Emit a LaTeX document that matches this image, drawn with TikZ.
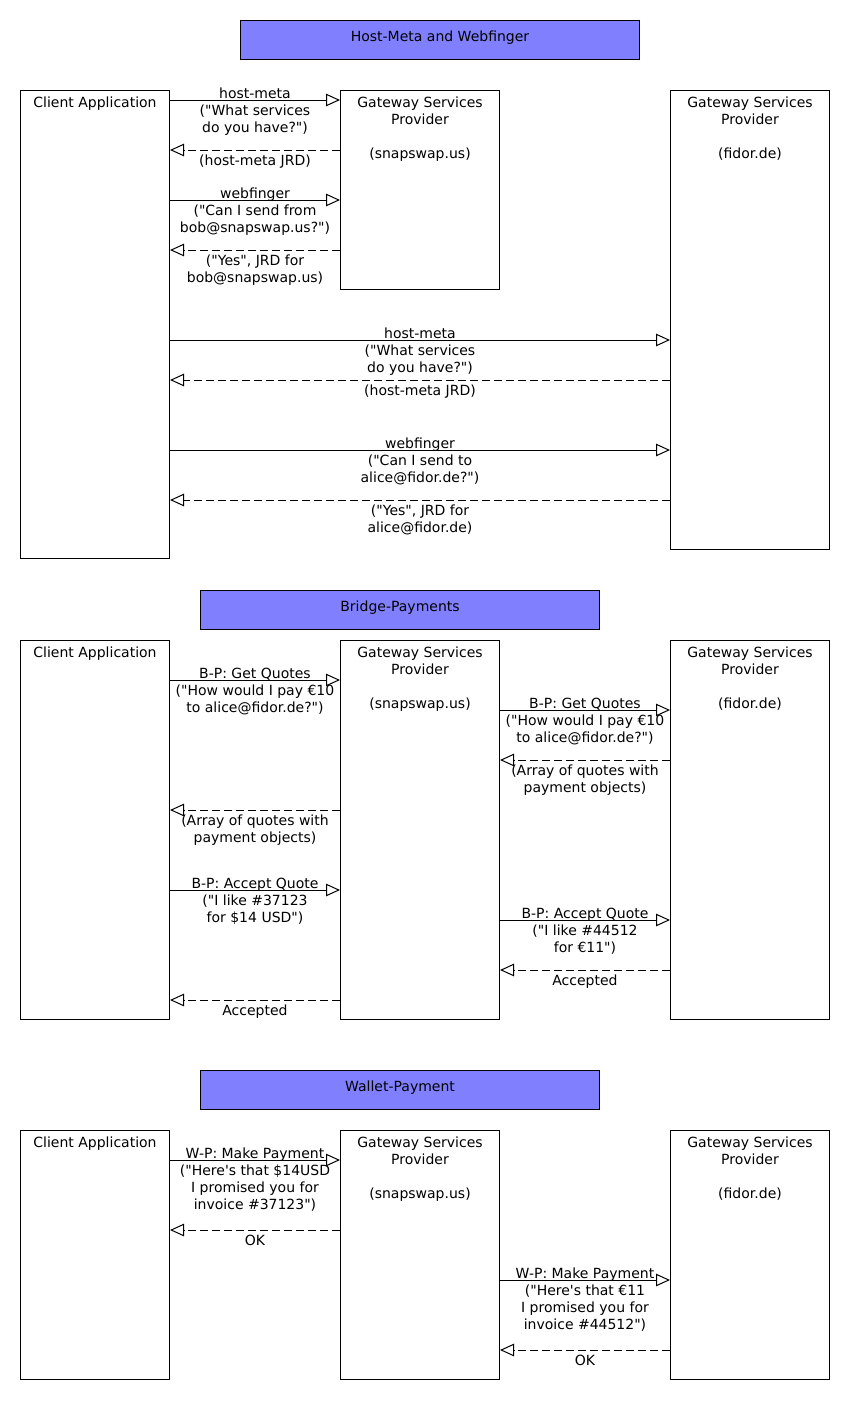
\documentclass[tikz,border=0pt]{standalone}
\usepackage{fontspec}
\setmainfont{DejaVu Sans}[Ligatures=TeXOff]
\usetikzlibrary{arrows.meta}
\definecolor{titleblue}{HTML}{8080FF}
\begin{document}
\begin{tikzpicture}[x=1pt, y=-1pt, line width=1pt,
    font=\fontsize{14}{17}\selectfont,
    heading/.style ={draw, fill=titleblue, anchor=north west, minimum width=399pt, minimum height=39pt, text depth=7pt},
    actor/.style ={draw, anchor=north west, inner sep=0pt},
    actortext/.style ={anchor=north, yshift=-6pt, align=center, inner sep=0pt},
    msg/.style ={-{Triangle[open, length=14pt, width=12.5pt]}},
    reply/.style ={msg, dash pattern=on 8pt off 4pt},
    ask/.style ={anchor=north, yshift=12.6pt, align=center, inner sep=0pt},
    answer/.style ={anchor=north, yshift=-4.4pt, align=center, inner sep=0pt}]
   \path[use as bounding box, fill=white] (0,0) rectangle (850,1414);

   \node[heading] (hw) at (240,20) {Host-Meta and Webfinger};
   \node[actor, minimum width=149pt, minimum height=468pt, label={[actortext]north:Client Application}] (ca1) at (20,90) {};
   \node[actor, minimum width=159pt, minimum height=199pt, label={[actortext]north:Gateway Services\\Provider\\[17pt](snapswap.us)}] (gs1) at (340,90) {};
   \node[actor, minimum width=159pt, minimum height=459pt, label={[actortext]north:Gateway Services\\Provider\\[17pt](fidor.de)}] (gf1) at (670,90) {};
   \draw[msg] (ca1.east |- 0,100) -- node[ask] {host-meta\\("What services\\do you have?")} (gs1.west |- 0,100);
   \draw[reply] (gs1.west |- 0,150) -- node[answer] {(host-meta JRD)} (ca1.east |- 0,150);
   \draw[msg] (ca1.east |- 0,200) -- node[ask] {webfinger\\("Can I send from\\bob@snapswap.us?")} (gs1.west |- 0,200);
   \draw[reply] (gs1.west |- 0,250) -- node[answer] {("Yes", JRD for\\bob@snapswap.us)} (ca1.east |- 0,250);
   \draw[msg] (ca1.east |- 0,340) -- node[ask] {host-meta\\("What services\\do you have?")} (gf1.west |- 0,340);
   \draw[reply] (gf1.west |- 0,380) -- node[answer] {(host-meta JRD)} (ca1.east |- 0,380);
   \draw[msg] (ca1.east |- 0,450) -- node[ask] {webfinger\\("Can I send to\\alice@fidor.de?")} (gf1.west |- 0,450);
   \draw[reply] (gf1.west |- 0,500) -- node[answer] {("Yes", JRD for\\alice@fidor.de)} (ca1.east |- 0,500);

   \node[heading] (bp) at (200,590) {Bridge-Payments};
   \node[actor, minimum width=149pt, minimum height=379pt, label={[actortext]north:Client Application}] (ca2) at (20,640) {};
   \node[actor, minimum width=159pt, minimum height=379pt, label={[actortext]north:Gateway Services\\Provider\\[17pt](snapswap.us)}] (gs2) at (340,640) {};
   \node[actor, minimum width=159pt, minimum height=379pt, label={[actortext]north:Gateway Services\\Provider\\[17pt](fidor.de)}] (gf2) at (670,640) {};
   \draw[msg] (ca2.east |- 0,680) -- node[ask] {B-P: Get Quotes\\("How would I pay €10\\to alice@fidor.de?")} (gs2.west |- 0,680);
   \draw[msg] (gs2.east |- 0,710) -- node[ask] {B-P: Get Quotes\\("How would I pay €10\\to alice@fidor.de?")} (gf2.west |- 0,710);
   \draw[reply] (gf2.west |- 0,760) -- node[answer] {(Array of quotes with\\payment objects)} (gs2.east |- 0,760);
   \draw[reply] (gs2.west |- 0,810) -- node[answer] {(Array of quotes with\\payment objects)} (ca2.east |- 0,810);
   \draw[msg] (ca2.east |- 0,890) -- node[ask] {B-P: Accept Quote\\("I like \#37123\\for \$14 USD")} (gs2.west |- 0,890);
   \draw[msg] (gs2.east |- 0,920) -- node[ask] {B-P: Accept Quote\\("I like \#44512\\for €11")} (gf2.west |- 0,920);
   \draw[reply] (gf2.west |- 0,970) -- node[answer] {Accepted} (gs2.east |- 0,970);
   \draw[reply] (gs2.west |- 0,1000) -- node[answer] {Accepted} (ca2.east |- 0,1000);

   \node[heading] (wp) at (200,1070) {Wallet-Payment};
   \node[actor, minimum width=149pt, minimum height=249pt, label={[actortext]north:Client Application}] (ca3) at (20,1130) {};
   \node[actor, minimum width=159pt, minimum height=249pt, label={[actortext]north:Gateway Services\\Provider\\[17pt](snapswap.us)}] (gs3) at (340,1130) {};
   \node[actor, minimum width=159pt, minimum height=249pt, label={[actortext]north:Gateway Services\\Provider\\[17pt](fidor.de)}] (gf3) at (670,1130) {};
   \draw[msg] (ca3.east |- 0,1160) -- node[ask] {W-P: Make Payment\\("Here's that \$14USD\\I promised you for\\invoice \#37123")} (gs3.west |- 0,1160);
   \draw[reply] (gs3.west |- 0,1230) -- node[answer] {OK} (ca3.east |- 0,1230);
   \draw[msg] (gs3.east |- 0,1280) -- node[ask] {W-P: Make Payment\\("Here's that €11\\I promised you for\\invoice \#44512")} (gf3.west |- 0,1280);
   \draw[reply] (gf3.west |- 0,1350) -- node[answer] {OK} (gs3.east |- 0,1350);
 \end{tikzpicture}
\end{document}
